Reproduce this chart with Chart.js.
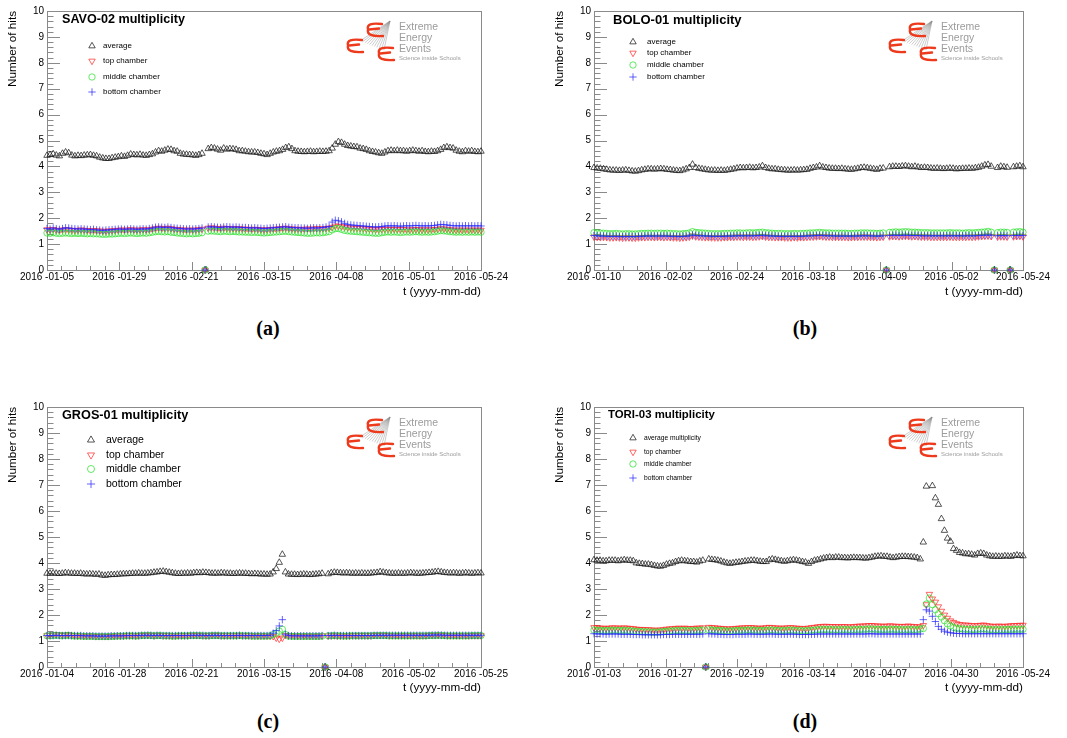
<!DOCTYPE html>
<html lang="en">
<head>
<meta charset="UTF-8">
<title>EEE multiplicity</title>
<script src="https://cdn.jsdelivr.net/npm/chart.js@4.4.1/dist/chart.umd.min.js"></script>
<style>
  body { margin: 0; background: #fff; }
  #page { position: relative; width: 1067px; height: 738px; overflow: hidden; background: #fff; }
  #page canvas { position: absolute; }
  .tag { position: absolute; width: 60px; text-align: center; line-height: 24px;
         font: bold 20px "Liberation Serif", "Times New Roman", serif; color: #000; }
</style>
</head>
<body>
<div id="page">
  <canvas id="cA" width="533" height="300" style="left:0;top:0"></canvas>
  <canvas id="cB" width="520" height="300" style="left:547px;top:0"></canvas>
  <canvas id="cC" width="533" height="300" style="left:0;top:396px"></canvas>
  <canvas id="cD" width="520" height="300" style="left:547px;top:396px"></canvas>
  <div class="tag" style="left:238px;top:317px">(a)</div>
  <div class="tag" style="left:775px;top:317px">(b)</div>
  <div class="tag" style="left:238px;top:710px">(c)</div>
  <div class="tag" style="left:775px;top:710px">(d)</div>
</div>

<script>
// ---- data (x = day of year 2016, one point per day, null = no point) ----

// SAVO-02, 2016-01-05 .. 2016-05-24
const firstDayA = 5, lastDayA = 145;
const ticksA = ['2016 -01-05', '2016 -01-29', '2016 -02-21', '2016 -03-15', '2016 -04-08', '2016 -05-01', '2016 -05-24'];
const avgA = [4.42,4.45,4.48,4.43,4.40, 4.50,4.55,4.52,
  4.43,4.40,4.42,4.41,4.43,4.44,4.45,4.42,4.40, 4.35,4.32,4.30,4.30,4.33,4.35,4.37,
  4.40,4.38,4.42, 4.47,4.45,4.44,4.46,4.43,4.42,4.45,4.48, 4.55,4.60,4.58,
  4.62,4.66,4.65,4.60,4.58, 4.50,4.47,4.46,4.45,4.44,4.42,4.45,4.50, 0,
  4.68,4.72,4.70,4.66,4.62,4.70, 4.66,4.68,4.67,4.65,4.60,4.60,
  4.58,4.56,4.55,4.55,4.53,4.50,4.48, 4.45,4.50,4.55,4.58,4.60, 4.65,4.72,4.75,4.68,
  4.60,4.58,4.57,4.56,4.57,4.58,4.56,4.57,4.58,4.57,4.58,4.60, 4.70,4.85,4.95,4.92,
  4.85,4.80,4.78,4.76,4.75, 4.70,4.68,4.65,4.60, 4.57,4.55,4.52,4.50,
  4.55,4.60,4.62,4.60,4.62,4.60, 4.60,4.58,4.60,4.62,4.60,4.58,4.60,4.57,4.56,4.58,4.57,4.60,4.65,
  4.72,4.75,4.72,4.70, 4.62,4.58,4.56,4.60,4.58, 4.60,4.57,4.56,4.58];
const topA = [1.56,1.55,1.57,1.54,1.53,1.55,1.56,1.55,1.54,1.53,1.54,1.55,1.54,1.53,1.52,1.53,1.52,1.51,1.50,1.50,
  1.51,1.52,1.53,1.54,1.55,1.54,1.55,1.56,1.55,1.54,1.55,1.56,1.55,1.56,1.58,1.60,1.62,1.61,1.60,1.62,
  1.60,1.58,1.57,1.56,1.55,1.54,1.55,1.54,1.55,1.56,1.58, 0,
  1.62,1.63,1.62,1.61,1.60,1.62,1.61,1.60,1.61,1.60,1.60,1.59,1.58,1.58,1.57,1.58,1.57,1.56,1.55,1.56,
  1.57,1.58,1.58,1.60,1.61,1.62,1.60,1.59,1.58,1.58,1.57,1.58,1.59,1.58,1.59,1.60,1.59,1.60,1.61,1.62,
  1.65,1.70,1.70,1.68,1.66,1.64,
  1.63,1.62,1.62,1.61,1.60,1.59,1.58,1.57,1.56,1.56,1.57,1.58,1.58,1.57,1.58,1.57,1.56,1.57,1.56,1.55,
  1.56,1.57,1.56,1.55,1.56,1.55,1.56,1.57,1.58,1.60,1.59,1.58,1.56,1.55,1.54,1.55,1.54,1.55,1.54,1.55,
  1.54,1.55,1.54];
const midA = [1.43,1.42,1.44,1.42,1.41,1.42,1.43,1.42,1.41,1.42,1.41,1.42,1.41,1.40,1.41,1.40,1.40,1.39,1.38,1.38,
  1.39,1.39,1.40,1.41,1.42,1.41,1.42,1.43,1.42,1.41,1.42,1.43,1.42,1.44,1.46,1.48,1.49,1.48,1.47,1.48,
  1.46,1.45,1.43,1.42,1.41,1.40,1.41,1.40,1.41,1.42,1.44, 0,
  1.50,1.51,1.50,1.49,1.48,1.50,1.49,1.48,1.49,1.48,1.47,1.47,1.46,1.46,1.45,1.46,1.45,1.44,1.43,1.44,
  1.45,1.46,1.47,1.48,1.49,1.50,1.48,1.47,1.46,1.45,1.44,1.43,1.42,1.42,1.43,1.44,1.43,1.44,1.46,1.48,
  1.55,1.60,1.60,1.57,1.53,1.51,
  1.50,1.49,1.48,1.47,1.46,1.45,1.44,1.43,1.42,1.42,1.44,1.46,1.47,1.46,1.47,1.46,1.45,1.46,1.47,1.46,
  1.47,1.48,1.47,1.46,1.47,1.46,1.47,1.48,1.50,1.52,1.51,1.50,1.48,1.47,1.46,1.47,1.46,1.47,1.46,1.47,
  1.46,1.47,1.46];
const botA = [1.60,1.58,1.62,1.59,1.57,1.60,1.63,1.62,1.60,1.59,1.58,1.59,1.58,1.57,1.56,1.57,1.55,1.54,1.53,1.54,
  1.55,1.56,1.57,1.58,1.58,1.57,1.58,1.59,1.58,1.57,1.58,1.59,1.58,1.60,1.62,1.65,1.66,1.65,1.64,1.66,
  1.64,1.62,1.61,1.60,1.59,1.58,1.59,1.58,1.59,1.60,1.62, 0,
  1.66,1.67,1.66,1.65,1.64,1.66,1.67,1.66,1.65,1.66,1.65,1.64,1.64,1.63,1.62,1.63,1.62,1.61,1.60,1.61,
  1.62,1.63,1.64,1.65,1.66,1.67,1.65,1.64,1.63,1.63,1.62,1.62,1.61,1.62,1.63,1.62,1.63,1.64,1.66,1.68,
  1.85,1.92,1.90,1.86,1.80,1.76,
  1.74,1.73,1.72,1.71,1.70,1.69,1.68,1.67,1.66,1.67,1.68,1.70,1.71,1.70,1.71,1.70,1.69,1.70,1.71,1.70,
  1.71,1.72,1.71,1.70,1.71,1.70,1.71,1.72,1.74,1.76,1.75,1.74,1.72,1.71,1.70,1.71,1.70,1.71,1.70,1.71,
  1.70,1.71,1.70];

// BOLO-01, 2016-01-10 .. 2016-05-24
const firstDayB = 10, lastDayB = 145;
const ticksB = ['2016 -01-10', '2016 -02-02', '2016 -02-24', '2016 -03-18', '2016 -04-09', '2016 -05-02', '2016 -05-24'];
const avgB = [3.95,3.93,3.92,3.90,3.88, 3.86,3.85,3.85,3.84,3.85,3.86,3.84, 3.82,3.81,3.83,
  3.86,3.88,3.90,3.90,3.89,3.90,3.91,3.90,3.88,3.87,3.85,3.84, 3.83,3.86,3.90, 3.95,4.08,
  3.95,3.92,3.90,3.88,3.86,3.85,3.85,3.84,3.85, 3.84,3.86,3.88,3.90,
  3.93,3.95,3.94,3.95,3.96,3.94,3.95,3.97, 4.02, 3.95,3.92,3.90,3.90,3.88,
  3.87,3.86,3.85,3.85,3.86,3.85,3.86,3.87,3.88, 3.92,3.95,3.97, 4.02,
  3.97,3.95,3.93,3.92,3.92,3.91,3.92,3.90,3.89,3.88,3.90,3.92,3.95,3.96,3.94,3.92,
  3.90,3.88,3.92,3.93, 0,
  3.98,4.00,4.00,3.99,4.01,4.02,4.00,3.98,4.00,3.97,3.95,3.96,
  3.95,3.93,3.92,3.93,3.92,3.91,3.92,3.93,3.92,3.90,3.91,3.92,3.92,3.93,3.92,3.94,
  3.96,4.00,4.05,4.07,4.00, 0, 3.95,4.00,3.98,3.96, 0, 3.98,4.00,4.02,3.98];
const topB = [1.28,1.27,1.26,1.27,1.26,1.25,1.25,1.26,1.25,1.24,1.25,1.25,1.24,1.24,1.25,1.26,1.26,1.27,1.27,1.26,
  1.27,1.27,1.26,1.27,1.26,1.25,1.25,1.24,1.25,1.26,1.28,1.32,1.29,1.28,1.27,1.26,1.26,1.25,1.25,1.25,
  1.25,1.26,1.26,1.27,1.27,1.28,1.28,1.27,1.28,1.28,1.27,1.28,1.29,1.30,1.28,1.27,1.27,1.26,1.26,1.26,
  1.25,1.25,1.25,1.26,1.25,1.26,1.26,1.27,1.28,1.28,1.29,1.30,1.29,1.28,1.28,1.27,1.27,1.27,1.27,1.27,
  1.26,1.26,1.27,1.27,1.28,1.28,1.28,1.27,1.27,1.26,1.27,1.28, 0,
  1.29,1.30,1.30,1.29,1.30,1.31,1.30,1.29,1.30,1.29,1.28,1.28,1.28,1.27,1.27,1.27,1.27,1.27,1.27,1.28,
  1.27,1.27,1.27,1.27,1.27,1.28,1.27,1.28,1.29,1.30,1.31,1.32,1.30, 0,
  1.28,1.29,1.29,1.28, 0, 1.29,1.30,1.31,1.29];
const midB = [1.44,1.43,1.42,1.42,1.41,1.40,1.40,1.41,1.40,1.39,1.40,1.40,1.39,1.39,1.40,1.41,1.41,1.42,1.42,1.41,
  1.42,1.42,1.41,1.42,1.41,1.40,1.40,1.39,1.40,1.41,1.43,1.48,1.45,1.44,1.43,1.42,1.41,1.40,1.40,1.40,
  1.40,1.41,1.41,1.42,1.42,1.43,1.43,1.42,1.43,1.44,1.43,1.44,1.45,1.46,1.44,1.43,1.42,1.41,1.41,1.41,
  1.40,1.40,1.40,1.41,1.40,1.41,1.41,1.42,1.43,1.43,1.44,1.45,1.44,1.43,1.43,1.42,1.42,1.42,1.42,1.42,
  1.41,1.41,1.42,1.42,1.43,1.43,1.43,1.42,1.42,1.41,1.42,1.43, 0,
  1.45,1.46,1.47,1.46,1.47,1.48,1.47,1.46,1.46,1.45,1.44,1.44,1.44,1.43,1.43,1.43,1.43,1.43,1.43,1.44,
  1.43,1.43,1.43,1.42,1.43,1.44,1.43,1.44,1.45,1.46,1.47,1.49,1.46, 0,
  1.44,1.46,1.46,1.45, 0, 1.46,1.47,1.48,1.46];
const botB = [1.33,1.32,1.31,1.31,1.30,1.30,1.30,1.30,1.29,1.29,1.29,1.29,1.29,1.29,1.30,1.30,1.31,1.31,1.31,1.31,
  1.31,1.31,1.31,1.31,1.30,1.30,1.30,1.29,1.30,1.30,1.32,1.35,1.33,1.32,1.32,1.31,1.31,1.30,1.30,1.30,
  1.30,1.30,1.31,1.31,1.31,1.32,1.32,1.32,1.32,1.32,1.32,1.32,1.33,1.34,1.32,1.32,1.31,1.31,1.30,1.30,
  1.30,1.30,1.30,1.30,1.30,1.30,1.31,1.31,1.32,1.32,1.33,1.34,1.33,1.32,1.32,1.32,1.31,1.31,1.31,1.31,
  1.31,1.31,1.31,1.31,1.32,1.32,1.32,1.32,1.31,1.31,1.31,1.32, 0,
  1.33,1.34,1.34,1.33,1.34,1.34,1.34,1.33,1.33,1.33,1.32,1.32,1.32,1.32,1.32,1.32,1.32,1.32,1.32,1.32,
  1.32,1.32,1.32,1.32,1.32,1.32,1.32,1.32,1.33,1.34,1.34,1.35,1.34, 0,
  1.32,1.33,1.33,1.32, 0, 1.33,1.33,1.34,1.33];

// GROS-01, 2016-01-04 .. 2016-05-25
const firstDayC = 4, lastDayC = 146;
const ticksC = ['2016 -01-04', '2016 -01-28', '2016 -02-21', '2016 -03-15', '2016 -04-08', '2016 -05-02', '2016 -05-25'];
const avgC = [3.60,3.60,3.61,3.60,3.59,3.60,3.62,3.61,3.60,3.60,3.59,3.60,3.58,3.57,3.58,3.57,3.56, 3.57,
  3.53,3.52,3.54,3.55,3.55,
  3.56,3.57,3.58,3.58,3.59,3.60,3.60,3.61,3.60,3.60,3.61,3.62,3.64,3.65,3.67, 3.68,3.66,3.64,3.62,
  3.60,3.59,3.60,3.60,3.61,3.60,3.62,3.63,3.62,3.64,3.63,3.62,
  3.60,3.61,3.60,3.62,3.61,3.60,3.60,3.59,3.60,3.61,3.60,3.60,3.59,3.58,3.59,3.58,3.57,3.57,3.56,3.57,
  3.65, 3.78,4.02,4.33, 3.65,
  3.57,3.56,3.56,3.55,3.56,3.57,3.56,3.55,3.56,3.57,3.58,3.60, 0,
  3.58,3.62,3.64,3.63,3.62,3.61,3.62,3.61,3.60,3.61,3.60,3.61,3.60,3.60,3.61,3.62,3.63,3.66,3.64,3.62,
  3.61,3.60,3.60,3.61,3.60,3.60,3.61,3.62,3.61,3.60,3.60,3.61,3.62,3.63,3.64,3.66,3.67,3.65,3.63,3.62,
  3.61,3.62,3.61,3.60,3.61,3.62,3.61,3.60,3.61,3.62,3.61];
const topC = [1.21,1.22,1.24,1.25,1.24,1.22,1.23,1.25,1.22,1.21,1.20,1.20,1.19,1.19,1.20,1.19,1.18,1.18,1.19,1.18,
  1.18,1.19,1.19,1.20,1.20,1.20,1.21,1.21,1.21,1.20,1.21,1.22,1.22,1.23,1.22,1.21,1.22,1.22,1.21,1.21,
  1.21,1.20,1.20,1.21,1.21,1.21,1.21,1.22,1.22,1.22,1.22,1.21,1.21,1.21,1.22,1.22,1.22,1.21,1.21,1.21,
  1.21,1.21,1.21,1.22,1.21,1.21,1.21,1.20,1.20,1.20,1.20,1.20,1.20,1.19,1.18,
  1.12,1.08,1.12, 1.22,
  1.20,1.20,1.19,1.19,1.19,1.19,1.19,1.19,1.19,1.19,1.19,1.20, 0,
  1.20,1.21,1.21,1.20,1.20,1.20,1.20,1.20,1.21,1.21,1.21,1.21,1.21,1.21,1.21,1.22,1.22,1.22,1.22,1.22,
  1.21,1.21,1.21,1.21,1.21,1.21,1.21,1.21,1.21,1.21,1.21,1.21,1.21,1.22,1.22,1.22,1.23,1.22,1.22,1.21,
  1.21,1.21,1.21,1.21,1.21,1.21,1.21,1.21,1.21,1.21,1.21];
const midC = [1.20,1.20,1.21,1.22,1.21,1.20,1.21,1.22,1.20,1.19,1.19,1.19,1.18,1.18,1.18,1.18,1.17,1.17,1.17,1.17,
  1.17,1.18,1.18,1.19,1.19,1.19,1.20,1.20,1.20,1.19,1.20,1.21,1.21,1.22,1.21,1.20,1.21,1.21,1.20,1.20,
  1.20,1.19,1.19,1.20,1.20,1.20,1.20,1.21,1.21,1.21,1.21,1.20,1.20,1.20,1.21,1.21,1.21,1.20,1.20,1.20,
  1.20,1.20,1.20,1.21,1.20,1.20,1.20,1.19,1.19,1.19,1.19,1.19,1.19,1.20,1.25,
  1.30,1.38,1.45, 1.25,
  1.19,1.18,1.18,1.18,1.18,1.18,1.18,1.18,1.18,1.18,1.18,1.19, 0,
  1.20,1.20,1.21,1.20,1.20,1.19,1.19,1.20,1.20,1.20,1.20,1.20,1.20,1.20,1.20,1.21,1.21,1.21,1.21,1.21,
  1.20,1.20,1.20,1.20,1.20,1.20,1.20,1.20,1.20,1.20,1.20,1.20,1.20,1.21,1.21,1.21,1.22,1.21,1.21,1.20,
  1.20,1.20,1.20,1.20,1.20,1.20,1.20,1.21,1.21,1.21,1.21];
const botC = [1.21,1.21,1.21,1.22,1.21,1.21,1.21,1.21,1.21,1.21,1.21,1.21,1.20,1.20,1.20,1.20,1.19,1.19,1.19,1.19,
  1.19,1.20,1.20,1.20,1.20,1.20,1.21,1.21,1.21,1.21,1.21,1.22,1.22,1.22,1.22,1.21,1.22,1.22,1.21,1.21,
  1.21,1.21,1.21,1.21,1.21,1.21,1.21,1.22,1.22,1.22,1.22,1.22,1.21,1.21,1.22,1.22,1.22,1.21,1.21,1.21,
  1.21,1.21,1.21,1.22,1.21,1.21,1.21,1.21,1.21,1.21,1.21,1.21,1.21,1.22,1.30,
  1.40,1.58,1.82, 1.26,
  1.21,1.20,1.20,1.20,1.20,1.20,1.20,1.20,1.20,1.20,1.20,1.21, 0,
  1.21,1.21,1.22,1.21,1.21,1.21,1.21,1.21,1.21,1.21,1.21,1.21,1.21,1.21,1.21,1.22,1.22,1.22,1.22,1.22,
  1.22,1.22,1.22,1.22,1.22,1.22,1.22,1.22,1.22,1.22,1.22,1.22,1.22,1.22,1.23,1.23,1.23,1.23,1.22,1.22,
  1.22,1.22,1.22,1.22,1.22,1.22,1.22,1.22,1.22,1.22,1.22];

// TORI-03, 2016-01-03 .. 2016-05-24
const firstDayD = 3, lastDayD = 145;
const ticksD = ['2016 -01-03', '2016 -01-27', '2016 -02-19', '2016 -03-14', '2016 -04-07', '2016 -04-30', '2016 -05-24'];
const avgD = [4.12,4.10,4.10,4.08,4.08,4.10,4.10,4.10,4.08,4.10,4.12,4.10,4.10,4.08,
  4.00,3.98,3.97,3.95,3.95,3.93, 3.90,3.88,3.87,3.90, 3.95,3.98,4.00,
  4.05,4.08,4.10,4.08,4.07,4.05,4.05,4.03,4.07, 4.10, 0,
  4.15,4.13,4.12,4.10,4.07, 4.03,4.00,3.98,4.00,4.02,
  4.03,4.05,4.07,4.08,4.10,4.10,4.08,4.06,4.05,4.05,
  4.12,4.15,4.13,4.10,4.08,4.06,4.08,4.10,4.12,4.10,4.08,4.05,4.03,3.98,
  4.05,4.10,4.12,4.15, 4.18,4.20,4.22,
  4.20,4.22,4.22,4.20,4.20,4.19,4.20,4.21,4.20,4.20,4.19,4.18,4.20,4.22,4.25,
  4.26,4.27,4.25,4.25,4.22,4.20,4.22,4.24,4.25,4.25,4.24,4.23,4.22,4.20, 4.15,
  4.80, 6.95, null, 6.97,6.50,6.25,5.70,5.25,4.95,4.83,4.55,4.48,
  4.40,4.38,4.35,4.35,4.33,4.30,4.36,4.38,4.36,4.30,
  4.27,4.25,4.26,4.25,4.25,4.27,4.26,4.25,4.28,4.30,4.28,4.27];
const topD = [1.52,1.51,1.50,1.50,1.49,1.50,1.51,1.51,1.50,1.50,1.51,1.50,1.49,1.48,1.46,1.45,1.45,1.44,1.44,1.43,
  1.42,1.42,1.43,1.44,1.46,1.47,1.48,1.49,1.50,1.49,1.50,1.49,1.48,1.49,1.50,1.50,1.51, 0,
  1.53,1.52,1.51,1.50,1.49,1.48,1.47,1.47,1.48,1.49,1.50,1.51,1.51,1.52,1.52,1.51,1.50,1.50,1.50,1.52,
  1.53,1.52,1.51,1.50,1.50,1.50,1.51,1.52,1.51,1.50,1.49,1.49,1.48,1.50,1.52,1.53,1.55,1.56,1.57,1.57,
  1.56,1.56,1.56,1.55,1.56,1.56,1.55,1.55,1.56,1.57,1.58,1.58,1.59,1.60,1.60,1.59,1.58,1.58,1.57,1.58,
  1.59,1.58,1.57,1.57,1.56,1.57,1.58,1.57,1.56,1.55,1.55,
  1.60,2.40,2.80,2.62,2.50,2.32,2.15,2.00,1.88,1.78,1.72,1.67,
  1.64,1.62,1.62,1.61,1.60,1.59,1.60,1.61,1.62,1.60,1.58,1.57,1.57,1.58,1.57,1.57,1.58,1.59,1.60,1.60,
  1.61,1.61];
const midD = [1.42,1.41,1.40,1.40,1.40,1.40,1.41,1.41,1.40,1.40,1.41,1.40,1.39,1.38,1.37,1.36,1.36,1.35,1.35,1.34,
  1.34,1.34,1.35,1.36,1.37,1.38,1.39,1.40,1.40,1.40,1.40,1.40,1.39,1.40,1.40,1.41,1.42, 0,
  1.43,1.42,1.41,1.40,1.40,1.39,1.38,1.38,1.39,1.40,1.40,1.41,1.41,1.42,1.42,1.41,1.41,1.40,1.40,1.41,
  1.42,1.42,1.41,1.40,1.40,1.40,1.41,1.42,1.41,1.40,1.40,1.39,1.39,1.40,1.41,1.42,1.43,1.44,1.44,1.44,
  1.44,1.43,1.43,1.43,1.43,1.44,1.43,1.43,1.43,1.44,1.44,1.45,1.45,1.46,1.46,1.45,1.45,1.44,1.44,1.44,
  1.45,1.45,1.44,1.44,1.43,1.43,1.44,1.44,1.43,1.43,1.46,
  1.48,2.42,2.65,2.40,2.20,2.05,1.92,1.78,1.66,1.58,1.52,1.49,
  1.47,1.46,1.45,1.45,1.44,1.44,1.45,1.46,1.46,1.45,1.44,1.43,1.43,1.43,1.43,1.44,1.44,1.44,1.45,1.45,
  1.45,1.45];
const botD = [1.28,1.27,1.27,1.27,1.26,1.27,1.27,1.27,1.27,1.26,1.26,1.26,1.26,1.25,1.25,1.25,1.24,1.24,1.24,1.24,
  1.24,1.24,1.24,1.25,1.25,1.25,1.26,1.26,1.26,1.26,1.26,1.26,1.26,1.26,1.26,1.26,1.27, 0,
  1.28,1.27,1.27,1.26,1.26,1.25,1.25,1.25,1.25,1.26,1.26,1.26,1.26,1.27,1.27,1.26,1.26,1.26,1.26,1.26,
  1.27,1.27,1.26,1.26,1.26,1.26,1.26,1.27,1.26,1.26,1.25,1.25,1.25,1.25,1.26,1.26,1.27,1.27,1.27,1.27,
  1.27,1.27,1.27,1.27,1.27,1.27,1.27,1.27,1.27,1.27,1.27,1.27,1.27,1.28,1.28,1.27,1.27,1.27,1.27,1.27,
  1.27,1.27,1.27,1.27,1.27,1.27,1.27,1.27,1.27,1.27,1.27,
  1.82,2.20,2.15,1.95,1.75,1.56,1.45,1.38,1.34,1.32,1.30,1.29,
  1.29,1.28,1.28,1.28,1.28,1.28,1.28,1.28,1.28,1.28,1.28,1.28,1.28,1.28,1.28,1.28,1.28,1.28,1.28,1.28,
  1.28,1.28];

const seriesNames = ['average', 'top chamber', 'middle chamber', 'bottom chamber'];
const seriesNamesD = ['average multiplicity', 'top chamber', 'middle chamber', 'bottom chamber'];

// ---- styling ----
const FONT = '"Liberation Sans", Arial, Helvetica, sans-serif';
Chart.defaults.font.family = FONT;
Chart.defaults.color = '#000';

const markers = [
  { pointStyle: 'triangle', rotation: 0,   radius: 3.7, color: 'rgba(20,20,20,0.8)' },
  { pointStyle: 'triangle', rotation: 180, radius: 3.7, color: 'rgba(255,40,40,0.8)' },
  { pointStyle: 'circle',   rotation: 0,   radius: 3.2, color: 'rgba(40,225,40,0.8)' },
  { pointStyle: 'cross',    rotation: 0,   radius: 3.7, color: 'rgba(40,40,255,0.8)' }
];

function toPoints(first, values) {
  const pts = [];
  values.forEach((v, i) => { if (v !== null) pts.push({ x: first + i, y: v }); });
  return pts;
}

function drawMarker(ctx, m, x, y, scale) {
  ctx.save();
  ctx.strokeStyle = m.color;
  ctx.fillStyle = 'rgba(0,0,0,0)';
  ctx.lineWidth = 0.9;
  Chart.helpers.drawPoint(ctx, { pointStyle: m.pointStyle, rotation: m.rotation, radius: m.radius * scale, borderWidth: 0.9 }, x, y);
  ctx.restore();
}

function drawLogo(ctx, right, top) {
  ctx.save();
  // grey fan
  ctx.strokeStyle = 'rgba(140,140,140,0.75)';
  ctx.lineWidth = 0.6;
  for (let k = 0; k < 11; k++) {
    const t = k / 10;
    ctx.beginPath();
    ctx.moveTo(right - 91, top + 10);
    ctx.lineTo(right - 121 + 24 * t, top + 30 + 9 * t);
    ctx.stroke();
  }
  // red E's
  ctx.strokeStyle = '#ee3a1c';
  ctx.lineWidth = 2.4;
  ctx.lineCap = 'round';
  [[right - 114, top + 12], [right - 134, top + 28], [right - 103, top + 36]].forEach(([x, y]) => {
    const w = 15, h = 13;
    ctx.beginPath();
    ctx.moveTo(x + w, y + 1);
    ctx.quadraticCurveTo(x - 1, y - 1, x + 1, y + h / 2);
    ctx.quadraticCurveTo(x - 1, y + h + 1, x + w + 1, y + h);
    ctx.moveTo(x + 2, y + h / 2);
    ctx.lineTo(x + w - 3, y + h / 2 - 1);
    ctx.stroke();
  });
  ctx.fillStyle = '#9c9c9c';
  ctx.textAlign = 'left';
  ctx.textBaseline = 'middle';
  ctx.font = '10.5px ' + FONT;
  ctx.fillText('Extreme', right - 82, top + 16);
  ctx.fillText('Energy', right - 82, top + 27);
  ctx.fillText('Events', right - 82, top + 38);
  ctx.font = '6px ' + FONT;
  ctx.fillText('Science inside Schools', right - 82, top + 47);
  ctx.restore();
}

// ROOT-like frame, inner ticks, title, legend and logo
const rootStyle = {
  id: 'rootStyle',
  beforeDatasetsDraw(chart) {
    const { ctx, chartArea: a, scales: { x, y } } = chart;
    ctx.save();
    ctx.strokeStyle = '#8a8a8a';
    ctx.lineWidth = 1;
    ctx.beginPath();
    for (let k = 0; k <= 50; k++) {
      const py = Math.round(y.getPixelForValue(y.min + k * (y.max - y.min) / 50)) + 0.5;
      ctx.moveTo(a.left, py);
      ctx.lineTo(a.left + (k % 5 === 0 ? 13 : 6.5), py);
    }
    for (let k = 0; k <= 30; k++) {
      const px = Math.round(x.getPixelForValue(x.min + k * (x.max - x.min) / 30)) + 0.5;
      ctx.moveTo(px, a.bottom);
      ctx.lineTo(px, a.bottom - (k % 5 === 0 ? 8 : 4));
    }
    ctx.stroke();
    ctx.strokeRect(Math.round(a.left) + 0.5, Math.round(a.top) + 0.5,
                   Math.round(a.right - a.left), Math.round(a.bottom - a.top));
    ctx.restore();
  },
  afterDatasetsDraw(chart, args, o) {
    const { ctx, chartArea: a } = chart;
    ctx.save();
    ctx.fillStyle = '#000';
    ctx.textBaseline = 'middle';
    ctx.textAlign = 'left';
    ctx.font = 'bold ' + o.titleSize + 'px ' + FONT;
    ctx.fillText(o.title, a.left + o.titleX, a.top + o.titleY);

    ctx.font = o.legendSize + 'px ' + FONT;
    o.names.forEach((name, i) => {
      const yy = a.top + o.rows[i];
      drawMarker(ctx, markers[i], a.left + o.markerX, yy, o.markerScale);
      ctx.fillStyle = '#000';
      ctx.fillText(name, a.left + o.textX, yy);
    });
    ctx.restore();
    drawLogo(ctx, a.right, a.top);
  }
};

function makeChart(id, p) {
  const values = [p.avg, p.top, p.mid, p.bot];
  return new Chart(document.getElementById(id), {
    type: 'scatter',
    data: {
      datasets: values.map((vals, i) => ({
        label: p.names[i],
        data: toPoints(p.first, vals),
        pointStyle: markers[i].pointStyle,
        pointRotation: markers[i].rotation,
        pointRadius: markers[i].radius,
        pointBorderColor: markers[i].color,
        borderColor: markers[i].color,
        pointBackgroundColor: 'rgba(0,0,0,0)',
        backgroundColor: 'rgba(0,0,0,0)',
        pointBorderWidth: 0.9,
        showLine: false,
        clip: false,
        order: 3 - i
      }))
    },
    options: {
      responsive: false,
      animation: false,
      events: [],
      layout: { padding: { top: 11, right: p.padRight, left: 0, bottom: 0 } },
      scales: {
        x: {
          type: 'linear',
          min: p.first,
          max: p.last,
          afterBuildTicks: s => {
            s.ticks = p.ticks.map((_, k) => ({ value: p.first + k * (p.last - p.first) / (p.ticks.length - 1) }));
          },
          afterFit: s => { s.height = p.xHeight; s.paddingLeft = 0; s.paddingRight = 0; },
          ticks: {
            autoSkip: false, maxRotation: 0, padding: 1,
            font: { size: 10 }, color: '#000',
            callback: (v, i) => p.ticks[i]
          },
          grid: { display: false, drawTicks: false },
          border: { display: false },
          title: {
            display: true, text: 't (yyyy-mm-dd)', align: 'end',
            font: { size: 11.7 }, color: '#000', padding: { top: 0, bottom: 1 }
          }
        },
        y: {
          min: 0,
          max: 10,
          afterFit: s => { s.width = 47; s.paddingTop = 0; s.paddingBottom = 0; },
          ticks: { stepSize: 1, padding: 3, font: { size: 10 }, color: '#000' },
          grid: { display: false, drawTicks: false },
          border: { display: false },
          title: {
            display: true, text: 'Number of hits', align: 'end',
            font: { size: 11.7 }, color: '#000', padding: { top: 6, bottom: 0 }
          }
        }
      },
      plugins: {
        legend: { display: false },
        tooltip: { enabled: false },
        rootStyle: p.deco
      }
    },
    plugins: [rootStyle]
  });
}

makeChart('cA', {
  first: firstDayA, last: lastDayA, ticks: ticksA, names: seriesNames,
  avg: avgA, top: topA, mid: midA, bot: botA, padRight: 52, xHeight: 30,
  deco: { title: 'SAVO-02 multiplicity', titleSize: 12.6, titleX: 15, titleY: 9,
          names: seriesNames, legendSize: 8, markerX: 45, textX: 56, rows: [35, 50, 66, 81], markerScale: 1 }
});
makeChart('cB', {
  first: firstDayB, last: lastDayB, ticks: ticksB, names: seriesNames,
  avg: avgB, top: topB, mid: midB, bot: botB, padRight: 44, xHeight: 30,
  deco: { title: 'BOLO-01 multiplicity', titleSize: 13, titleX: 19, titleY: 9,
          names: seriesNames, legendSize: 8, markerX: 39, textX: 53, rows: [31, 42, 54, 66], markerScale: 1 }
});
makeChart('cC', {
  first: firstDayC, last: lastDayC, ticks: ticksC, names: seriesNames,
  avg: avgC, top: topC, mid: midC, bot: botC, padRight: 52, xHeight: 29,
  deco: { title: 'GROS-01 multiplicity', titleSize: 12.7, titleX: 15, titleY: 8,
          names: seriesNames, legendSize: 10.5, markerX: 44, textX: 59, rows: [33, 48, 62, 77], markerScale: 1.1 }
});
makeChart('cD', {
  first: firstDayD, last: lastDayD, ticks: ticksD, names: seriesNamesD,
  avg: avgD, top: topD, mid: midD, bot: botD, padRight: 44, xHeight: 29,
  deco: { title: 'TORI-03 multiplicity', titleSize: 11.4, titleX: 14, titleY: 8,
          names: seriesNamesD, legendSize: 6.7, markerX: 39, textX: 50, rows: [31, 45, 57, 71], markerScale: 1 }
});
</script>
</body>
</html>
